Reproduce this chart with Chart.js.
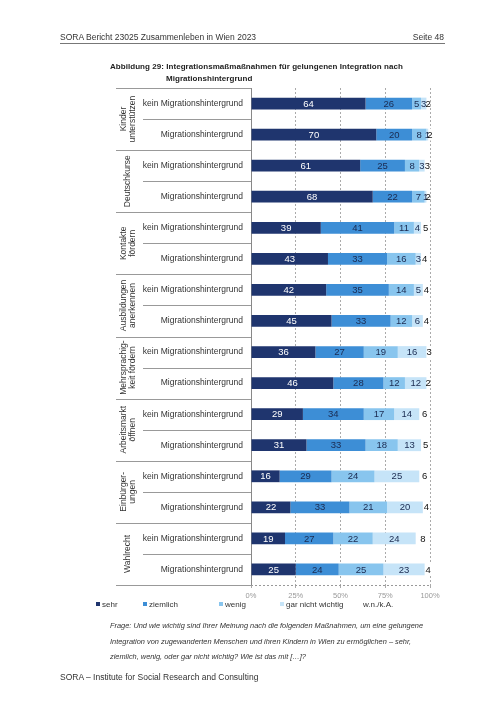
<!DOCTYPE html>
<html>
<head>
<meta charset="utf-8">
<script src="https://cdn.jsdelivr.net/npm/chart.js@4"></script>
<style>
  body { margin: 0; background: #fff; font-family: "Liberation Sans", Arial, sans-serif; color: #333; }
  #page { position: relative; width: 504px; height: 712px; overflow: hidden; }
  #myChart { position: absolute; left: 0; top: 0; }
  .txt { position: absolute; white-space: nowrap; }
  #kopf { left: 60px; top: 32px; font-size: 8.5px; }
  #seite { right: 60px; top: 32px; font-size: 8.5px; }
  #linie { position: absolute; left: 60px; top: 43px; width: 385px; height: 1px; background: #777; }
  #titel1 { left: 110px; top: 62px; font-size: 8px; font-weight: bold; letter-spacing: 0.05px; color: #222; }
  #titel2 { left: 166px; top: 74px; font-size: 8px; font-weight: bold; letter-spacing: 0.05px; color: #222; }
  #legende { position: absolute; left: 0; top: 600px; width: 504px; font-size: 8px; }
  .leg { position: absolute; top: 0; white-space: nowrap; }
  .leg i { display: inline-block; width: 4px; height: 4px; margin-right: 2px; vertical-align: 1px; }
  #frage { left: 110px; top: 618px; font-size: 7.4px; font-style: italic; line-height: 15.5px; color: #333; }
  #fuss { left: 60px; top: 672px; font-size: 8.5px; }
</style>
</head>
<body>
<div id="page">
  <canvas id="myChart" width="504" height="712"></canvas>
  <div class="txt" id="kopf">SORA Bericht 23025 Zusammenleben in Wien 2023</div>
  <div class="txt" id="seite">Seite 48</div>
  <div id="linie"></div>
  <div class="txt" id="titel1">Abbildung 29: Integrationsmaßmaßnahmen für gelungenen Integration nach</div>
  <div class="txt" id="titel2">Migrationshintergrund</div>
  <div id="legende"></div>
  <div class="txt" id="frage">Frage: Und wie wichtig sind Ihrer Meinung nach die folgenden Maßnahmen, um eine gelungene<br>Integration von zugewanderten Menschen und ihren Kindern in Wien zu ermöglichen – sehr,<br>ziemlich, wenig, oder gar nicht wichtig? Wie ist das mit […]?</div>
  <div class="txt" id="fuss">SORA – Institute for Social Research and Consulting</div>
</div>
<script>
// Daten
let categories = [
  "kein Migrationshintergrund", "Migrationshintergrund",
  "kein Migrationshintergrund", "Migrationshintergrund",
  "kein Migrationshintergrund", "Migrationshintergrund",
  "kein Migrationshintergrund", "Migrationshintergrund",
  "kein Migrationshintergrund", "Migrationshintergrund",
  "kein Migrationshintergrund", "Migrationshintergrund",
  "kein Migrationshintergrund", "Migrationshintergrund",
  "kein Migrationshintergrund", "Migrationshintergrund"
];
let groups = [
  ["Kinder", "unterstützen"], ["Deutschkurse"], ["Kontakte", "fördern"],
  ["Ausbildungen", "anerkennen"], ["Mehrsprachig-", "keit fördern"],
  ["Arbeitsmarkt", "öffnen"], ["Einbürger-", "ungen"], ["Wahlrecht"]
];
let seriesNames = ["sehr", "ziemlich", "wenig", "gar nicht wichtig", "w.n./k.A."];
let sehr =     [64, 70, 61, 68, 39, 43, 42, 45, 36, 46, 29, 31, 16, 22, 19, 25];
let ziemlich = [26, 20, 25, 22, 41, 33, 35, 33, 27, 28, 34, 33, 29, 33, 27, 24];
let wenig =    [5, 8, 8, 7, 11, 16, 14, 12, 19, 12, 17, 18, 24, 21, 22, 25];
let garNicht = [3, 1, 3, 1, 4, 3, 5, 6, 16, 12, 14, 13, 25, 20, 24, 23];
let wnka =     [2, 2, 3, 2, 5, 4, 4, 4, 3, 2, 6, 5, 6, 4, 8, 4];
let tickLabels = ["0%", "25%", "50%", "75%", "100%"];

let colors = ["#1f356e", "#3d8ed6", "#88c5ee", "#c6e4f8", "#ffffff"];
let labelColors = ["#ffffff", "#1a2a50", "#1a2a50", "#1a2a50", "#111111"];
let FONT = "'Liberation Sans', Arial, sans-serif";

// legende
let legX = [96, 143, 219, 280, 357];
let legende = document.querySelector("#legende");
seriesNames.forEach((name, i) => {
  let d = document.createElement("div");
  d.className = "leg";
  d.style.left = legX[i] + "px";
  d.innerHTML = `<i style="background:${colors[i]}"></i>${name}`;
  legende.appendChild(d);
});

// beschriftung links
let seitenLabels = {
  id: "seitenLabels",
  afterDraw(chart) {
    const ctx = chart.ctx;
    const y = chart.scales.y;
    const area = chart.chartArea;
    const step = y.getPixelForValue(1) - y.getPixelForValue(0);
    ctx.save();
    ctx.strokeStyle = "#999";
    ctx.lineWidth = 1;
    // linien
    for (let i = 0; i <= categories.length; i++) {
      let py = Math.round(y.getPixelForValue(i) - step / 2) + 0.5;
      let x0 = i % 2 == 0 ? 116 : 143;
      ctx.beginPath();
      ctx.moveTo(x0, py);
      ctx.lineTo(area.left, py);
      ctx.stroke();
    }
    // untere achse gestrichelt
    ctx.setLineDash([2, 2]);
    ctx.beginPath();
    ctx.moveTo(area.left, Math.round(area.bottom) + 0.5);
    ctx.lineTo(area.right, Math.round(area.bottom) + 0.5);
    ctx.stroke();
    ctx.setLineDash([]);
    // kategorie texte
    ctx.fillStyle = "#333";
    ctx.font = "8.5px " + FONT;
    ctx.textAlign = "right";
    ctx.textBaseline = "middle";
    categories.forEach((c, i) => {
      ctx.fillText(c, 243, y.getPixelForValue(i));
    });
    // gruppen (gedreht)
    ctx.textAlign = "center";
    groups.forEach((g, k) => {
      let cy = (y.getPixelForValue(2 * k) + y.getPixelForValue(2 * k + 1)) / 2;
      ctx.save();
      ctx.translate(128, cy);
      ctx.rotate(-Math.PI / 2);
      let lh = 9.5;
      g.forEach((line, j) => {
        ctx.fillText(line, 0, (j - (g.length - 1) / 2) * lh);
      });
      ctx.restore();
    });
    ctx.restore();
  }
};

// werte in den balken
let wertLabels = {
  id: "wertLabels",
  afterDatasetsDraw(chart) {
    const ctx = chart.ctx;
    ctx.save();
    ctx.font = "9.5px " + FONT;
    ctx.textAlign = "center";
    ctx.textBaseline = "middle";
    chart.data.datasets.forEach((ds, di) => {
      const meta = chart.getDatasetMeta(di);
      ctx.fillStyle = labelColors[di];
      meta.data.forEach((bar, i) => {
        let cx = (bar.x + bar.base) / 2;
        ctx.fillText(ds.data[i], cx, bar.y + 0.5);
      });
    });
    ctx.restore();
  }
};

let allSeries = [sehr, ziemlich, wenig, garNicht, wnka];

const ctx = document.getElementById("myChart").getContext("2d");
let myChart = new Chart(ctx, {
  type: "bar",
  data: {
    labels: categories,
    datasets: allSeries.map((s, i) => ({
      label: seriesNames[i],
      data: s,
      backgroundColor: colors[i],
      borderWidth: 0,
      barPercentage: 0.76,
      categoryPercentage: 0.5,
      clip: false
    }))
  },
  plugins: [seitenLabels, wertLabels],
  options: {
    indexAxis: "y",
    responsive: false,
    animation: false,
    layout: { padding: { left: 243, right: 74, top: 88, bottom: 109 } },
    plugins: { legend: { display: false }, tooltip: { enabled: false } },
    scales: {
      x: {
        stacked: true,
        min: 0,
        max: 100,
        ticks: {
          stepSize: 25,
          color: "#999",
          font: { size: 7.5, family: FONT },
          padding: 3,
          maxRotation: 0,
          callback: (v, i) => tickLabels[i]
        },
        grid: { color: "#aaa", lineWidth: 1, tickLength: 3 },
        border: { display: false, dash: [2, 2] }
      },
      y: {
        stacked: true,
        ticks: { display: false },
        grid: { display: false },
        border: { display: true, color: "#888", width: 1 }
      }
    }
  }
});
</script>
</body>
</html>
